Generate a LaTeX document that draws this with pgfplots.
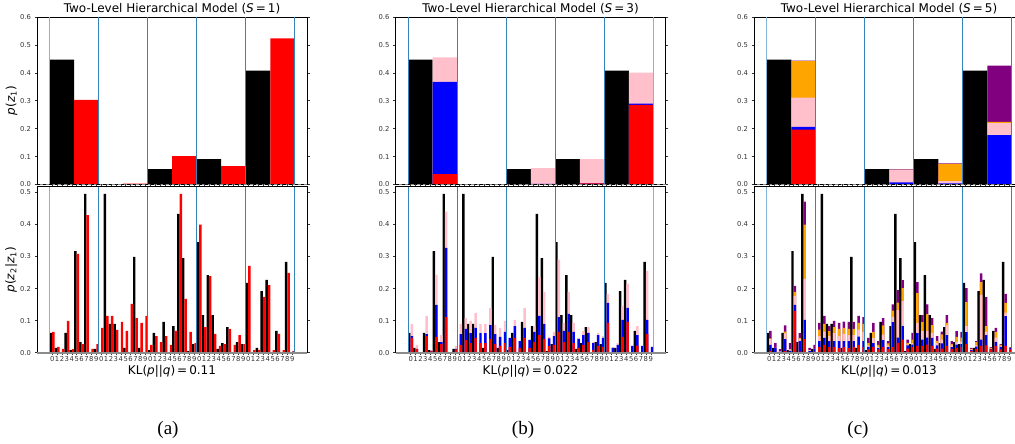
\documentclass[border=0pt]{standalone}
\usepackage{pgfplots}
\pgfplotsset{compat=1.18}
\usepackage{pgfplotstable}
\usepackage{fontspec}
\setmainfont{DejaVu Sans}
\newfontfamily\capfont{Liberation Serif}

\definecolor{tabblue}{HTML}{1F77B4}
\definecolor{mred}{HTML}{FF0000}
\definecolor{mblue}{HTML}{0000FF}
\definecolor{mpink}{HTML}{FFC0CB}
\definecolor{morange}{HTML}{FFA500}
\definecolor{mpurple}{HTML}{800080}

% p(z1): k = target, a = S=1 model, b* = S=3 (cumulative), c* = S=5 (cumulative)
\pgfplotstableread{
g ka ar br bb bp cr cb cp co cu
0 0.447 0.303 0.037 0.368 0.455 0.197 0.206 0.311 0.442 0.444
1 0.000 0.003 0.000 0.000 0.001 0.000 0.000 0.000 0.000 0.001
2 0.055 0.102 0.001 0.002 0.059 0.000 0.008 0.052 0.052 0.054
3 0.091 0.066 0.004 0.004 0.091 0.000 0.004 0.012 0.074 0.076
4 0.408 0.523 0.285 0.290 0.401 0.000 0.177 0.220 0.224 0.426
}\up

% p(z2|z1), 5 groups of 10
\pgfplotstableread{
i k ar br bb bp cr cb cp co cu
0 0.062 0.065 0.046 0.052 0.090 0.005 0.024 0.042 0.045 0.068
1 0.015 0.018 0.011 0.012 0.024 0.002 0.014 0.015 0.015 0.030
2 0.000 0.012 0.001 0.001 0.002 0.002 0.003 0.005 0.005 0.011
3 0.062 0.099 0.052 0.058 0.115 0.005 0.042 0.060 0.066 0.085
4 0.008 0.011 0.006 0.006 0.009 0.002 0.006 0.010 0.010 0.030
5 0.317 0.308 0.049 0.149 0.243 0.130 0.149 0.177 0.190 0.208
6 0.033 0.027 0.027 0.033 0.055 0.003 0.036 0.043 0.046 0.061
7 0.495 0.429 0.111 0.327 0.440 0.042 0.102 0.230 0.399 0.471
8 0.002 0.012 0.001 0.001 0.002 0.002 0.005 0.008 0.008 0.015
9 0.012 0.027 0.010 0.012 0.021 0.003 0.011 0.012 0.012 0.024
10 0.001 0.077 0.024 0.058 0.090 0.017 0.036 0.052 0.072 0.093
11 0.495 0.115 0.040 0.074 0.108 0.024 0.046 0.066 0.090 0.115
12 0.090 0.115 0.030 0.061 0.099 0.017 0.036 0.052 0.067 0.083
13 0.090 0.071 0.046 0.077 0.124 0.017 0.036 0.061 0.080 0.099
14 0.002 0.096 0.030 0.061 0.090 0.014 0.036 0.052 0.074 0.093
15 0.015 0.068 0.030 0.061 0.090 0.017 0.036 0.058 0.077 0.097
16 0.000 0.152 0.043 0.086 0.140 0.014 0.036 0.055 0.074 0.096
17 0.299 0.108 0.027 0.058 0.086 0.017 0.036 0.055 0.074 0.096
18 0.015 0.093 0.021 0.049 0.077 0.024 0.050 0.072 0.093 0.115
19 0.000 0.115 0.030 0.065 0.099 0.017 0.036 0.065 0.090 0.111
20 0.008 0.024 0.018 0.046 0.046 0.010 0.018 0.022 0.030 0.046
21 0.062 0.052 0.046 0.083 0.102 0.018 0.030 0.046 0.065 0.093
22 0.000 0.033 0.015 0.036 0.036 0.010 0.014 0.018 0.024 0.036
23 0.096 0.052 0.046 0.077 0.140 0.018 0.039 0.056 0.085 0.108
24 0.000 0.024 0.015 0.040 0.040 0.011 0.017 0.022 0.029 0.036
25 0.083 0.068 0.033 0.065 0.083 0.017 0.095 0.112 0.131 0.151
26 0.433 0.495 0.055 0.115 0.236 0.031 0.047 0.133 0.156 0.195
27 0.295 0.168 0.043 0.090 0.190 0.041 0.083 0.161 0.201 0.226
28 0.005 0.065 0.021 0.045 0.049 0.013 0.023 0.026 0.031 0.041
29 0.027 0.030 0.024 0.052 0.065 0.017 0.025 0.030 0.041 0.062
30 0.345 0.399 0.065 0.111 0.290 0.021 0.061 0.093 0.186 0.220
31 0.117 0.080 0.033 0.068 0.093 0.021 0.041 0.068 0.095 0.117
32 0.242 0.239 0.065 0.121 0.190 0.025 0.047 0.068 0.120 0.151
33 0.117 0.059 0.030 0.065 0.093 0.021 0.046 0.062 0.086 0.108
34 0.012 0.021 0.015 0.043 0.046 0.013 0.023 0.031 0.037 0.052
35 0.030 0.027 0.024 0.055 0.068 0.013 0.029 0.041 0.057 0.066
36 0.080 0.074 0.033 0.062 0.080 0.021 0.055 0.085 0.093 0.117
37 0.002 0.024 0.009 0.030 0.034 0.012 0.017 0.023 0.027 0.036
38 0.033 0.055 0.021 0.055 0.062 0.015 0.025 0.034 0.049 0.067
39 0.027 0.027 0.018 0.046 0.052 0.018 0.027 0.035 0.047 0.065
40 0.218 0.271 0.093 0.155 0.183 0.027 0.064 0.083 0.158 0.201
41 0.001 0.008 0.001 0.015 0.017 0.006 0.008 0.010 0.012 0.015
42 0.015 0.009 0.002 0.024 0.030 0.012 0.019 0.023 0.033 0.036
43 0.192 0.174 0.049 0.102 0.146 0.021 0.041 0.180 0.220 0.247
44 0.227 0.211 0.096 0.140 0.215 0.023 0.055 0.066 0.083 0.173
45 0.001 0.008 0.002 0.021 0.021 0.010 0.011 0.013 0.015 0.017
46 0.068 0.059 0.022 0.055 0.083 0.021 0.034 0.047 0.065 0.077
47 0.002 0.008 0.002 0.021 0.021 0.010 0.018 0.021 0.024 0.027
48 0.283 0.249 0.059 0.102 0.255 0.021 0.114 0.125 0.155 0.183
49 0.000 0.005 0.001 0.018 0.018 0.010 0.015 0.015 0.016 0.017
}\low

\pgfplotsset{
  panel/.style={scale only axis, width=270pt, xmin=-2.6, xmax=52.5, ymin=0,
    anchor=south west, clip=false,
    axis line style={black, line width=0.8pt},
    tick align=outside, major tick length=2.5pt,
    tick style={black!80, line width=0.5pt},
    ticklabel style={font=\fontsize{6.8}{7.5}\selectfont, text=black!80},
    /pgf/number format/assume math mode=true,
    yticklabel style={/pgf/number format/fixed, /pgf/number format/fixed zerofill,
      /pgf/number format/precision=1},
    label style={font=\fontsize{12}{14}\selectfont},
    ylabel shift=-4pt,
  },
  upper/.style={panel, height=167.5pt, ymax=0.6,
    ytick={0,0.1,0.2,0.3,0.4,0.5,0.6}, xtick=\empty,
    title style={font=\fontsize{12}{14}\selectfont, at={(0.5,1)}, anchor=base,
      yshift=-1.7pt, inner sep=0pt}},
  lower/.style={panel, height=166pt, ymax=0.5175,
    ytick={0,0.1,0.2,0.3,0.4,0.5}, xtick={0.5,1.5,...,49.5},
    xticklabels={0,1,2,3,4,5,6,7,8,9,0,1,2,3,4,5,6,7,8,9,0,1,2,3,4,5,6,7,8,9,
      0,1,2,3,4,5,6,7,8,9,0,1,2,3,4,5,6,7,8,9},
    xticklabel style={inner sep=1.5pt},
    xlabel style={yshift=2pt}},
  bk/.style={ybar, bar width=0.5, bar shift=0pt, draw=none, fill=#1},
  bt/.style={ybar, bar width=5, bar shift=0pt, draw=none, fill=#1},
}

% group separators: light ones, dark ones
\newcommand\vlines[2]{%
  \addplot[ycomb, mark=none, draw=tabblue!55, line width=1.4pt] coordinates {#1};
  \addplot[ycomb, mark=none, draw=tabblue!90, line width=1.4pt] coordinates {#2};}
\newcommand\zeroup{%
  \addplot[sharp plot, mark=none, draw=black!45, line width=1.8pt] coordinates {(-2.6,0) (52.5,0)};
  \addplot[sharp plot, mark=none, draw=black, dashed, line width=0.4pt] coordinates {(-2.6,0) (52.5,0)};}
\newcommand\zerolow{%
  \addplot[sharp plot, mark=none, draw=black!45, line width=1.8pt] coordinates {(-2.6,0) (52.5,0)};}

\newcommand\pz{\textit{p}(\textit{z}\textsubscript{1})}
\newcommand\pzz{\textit{p}(\textit{z}\textsubscript{2}|\textit{z}\textsubscript{1})}

\begin{document}
\begin{tikzpicture}
\useasboundingbox (0,0) rectangle (1015pt,444pt);
\clip (0,0) rectangle (1015pt,444pt);

% ---------- (a) S = 1
\begin{axis}[upper, at={(37pt,259.5pt)}, ylabel={\pz},
  title={Two-Level Hierarchical Model (\textit{S}\,=\,1)}]
\addplot[bt=black] table[x expr=10*\thisrow{g}+2.5, y=ka]{\up};
\addplot[bt=mred] table[x expr=10*\thisrow{g}+7.5, y=ar]{\up};
\vlines{(0,0.6)}{(10,0.6) (20,0.6) (30,0.6) (40,0.6) (50,0.6)}
\zeroup
\end{axis}
\begin{axis}[lower, at={(37pt,91.3pt)}, ylabel={\pzz},
  xlabel={KL(\textit{p}||\textit{q})\,=\,0.11}]
\addplot[bk=black] table[x expr=\thisrow{i}+0.25, y=k]{\low};
\addplot[bk=mred] table[x expr=\thisrow{i}+0.75, y=ar]{\low};
\vlines{(0,0.5175)}{(10,0.5175) (20,0.5175) (30,0.5175) (40,0.5175) (50,0.5175)}
\zerolow
\end{axis}

% ---------- (b) S = 3
\begin{axis}[upper, at={(395.5pt,259.5pt)},
  title={Two-Level Hierarchical Model (\textit{S}\,=\,3)}]
\addplot[bt=black] table[x expr=10*\thisrow{g}+2.5, y=ka]{\up};
\addplot[bt=mpink] table[x expr=10*\thisrow{g}+7.5, y=bp]{\up};
\addplot[bt=mblue] table[x expr=10*\thisrow{g}+7.5, y=bb]{\up};
\addplot[bt=mred] table[x expr=10*\thisrow{g}+7.5, y=br]{\up};
\vlines{(50,0.6)}{(0,0.6) (10,0.6) (20,0.6) (30,0.6) (40,0.6)}
\zeroup
\end{axis}
\begin{axis}[lower, at={(395.5pt,91.3pt)},
  xlabel={KL(\textit{p}||\textit{q})\,=\,0.022}]
\addplot[bk=black] table[x expr=\thisrow{i}+0.25, y=k]{\low};
\addplot[bk=mpink] table[x expr=\thisrow{i}+0.75, y=bp]{\low};
\addplot[bk=mblue] table[x expr=\thisrow{i}+0.75, y=bb]{\low};
\addplot[bk=mred] table[x expr=\thisrow{i}+0.75, y=br]{\low};
\vlines{(50,0.5175)}{(0,0.5175) (10,0.5175) (20,0.5175) (30,0.5175) (40,0.5175)}
\zerolow
\end{axis}

% ---------- (c) S = 5
\begin{axis}[upper, at={(754pt,259.5pt)},
  title={Two-Level Hierarchical Model (\textit{S}\,=\,5)}]
\addplot[bt=black] table[x expr=10*\thisrow{g}+2.5, y=ka]{\up};
\addplot[bt=mpurple] table[x expr=10*\thisrow{g}+7.5, y=cu]{\up};
\addplot[bt=morange] table[x expr=10*\thisrow{g}+7.5, y=co]{\up};
\addplot[bt=mpink] table[x expr=10*\thisrow{g}+7.5, y=cp]{\up};
\addplot[bt=mblue] table[x expr=10*\thisrow{g}+7.5, y=cb]{\up};
\addplot[bt=mred] table[x expr=10*\thisrow{g}+7.5, y=cr]{\up};
\vlines{(0,0.6)}{(10,0.6) (20,0.6) (30,0.6) (40,0.6) (50,0.6)}
\zeroup
\end{axis}
\begin{axis}[lower, at={(754pt,91.3pt)},
  xlabel={KL(\textit{p}||\textit{q})\,=\,0.013}]
\addplot[bk=black] table[x expr=\thisrow{i}+0.25, y=k]{\low};
\addplot[bk=mpurple] table[x expr=\thisrow{i}+0.75, y=cu]{\low};
\addplot[bk=morange] table[x expr=\thisrow{i}+0.75, y=co]{\low};
\addplot[bk=mpink] table[x expr=\thisrow{i}+0.75, y=cp]{\low};
\addplot[bk=mblue] table[x expr=\thisrow{i}+0.75, y=cb]{\low};
\addplot[bk=mred] table[x expr=\thisrow{i}+0.75, y=cr]{\low};
\vlines{(0,0.5175)}{(10,0.5175) (20,0.5175) (30,0.5175) (40,0.5175) (50,0.5175)}
\zerolow
\end{axis}

\node[font=\capfont\fontsize{19}{22}\selectfont] at (168pt,14pt) {(a)};
\node[font=\capfont\fontsize{19}{22}\selectfont] at (523pt,14pt) {(b)};
\node[font=\capfont\fontsize{19}{22}\selectfont] at (858pt,14pt) {(c)};
\end{tikzpicture}
\end{document}
